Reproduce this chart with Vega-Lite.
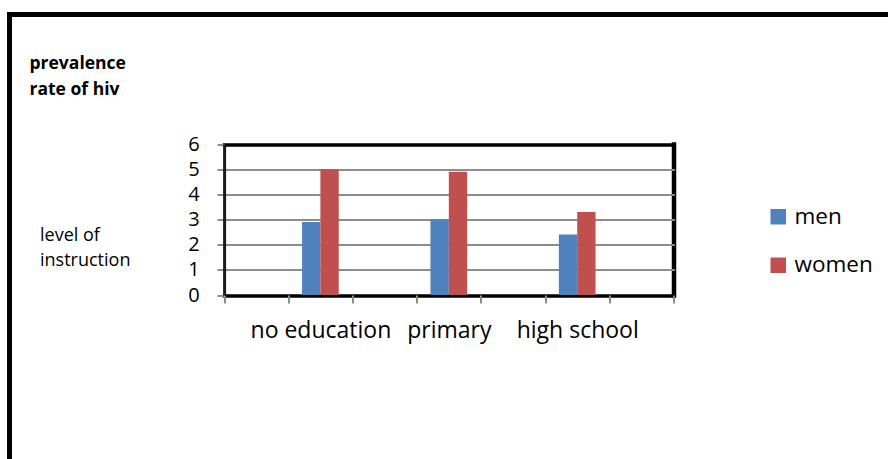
{
  "$schema": "https://vega.github.io/schema/vega-lite/v6.json",
  "width": 900,
  "height": 460,
  "autosize": "none",
  "padding": {"left": 9.5, "top": 14.5, "right": -21.5, "bottom": -15.5},
  "background": "white",
  "config": {
    "font": "Open Sans",
    "view": {"stroke": "black", "strokeWidth": 5, "fill": "white"}
  },
  "data": {
    "values": [
      {"level": "no education", "sex": "men", "rate": 2.9},
      {"level": "no education", "sex": "women", "rate": 5.0},
      {"level": "primary", "sex": "men", "rate": 3.0},
      {"level": "primary", "sex": "women", "rate": 4.9},
      {"level": "high school", "sex": "men", "rate": 2.4},
      {"level": "high school", "sex": "women", "rate": 3.3}
    ]
  },
  "mark": {"type": "bar"},
  "encoding": {
    "x": {
      "field": "level",
      "type": "nominal",
      "scale": {
        "domain": ["gap-a", "no education", "gap-b", "primary", "gap-c", "high school", "gap-d"],
        "range": [214.6, 664],
        "paddingInner": 0,
        "paddingOuter": 0
      },
      "axis": {
        "orient": "top",
        "offset": -280.5,
        "title": ["level of", "instruction"],
        "titleX": 30,
        "titleY": -55,
        "titleAngle": 0,
        "titleAlign": "left",
        "titleBaseline": "alphabetic",
        "titleFont": "Open Sans",
        "titleFontSize": 18,
        "titleFontWeight": "normal",
        "titleColor": "black",
        "titleLineHeight": 25,
        "tickBand": "extent",
        "domain": false,
        "ticks": true,
        "tickSize": -8,
        "tickColor": "#8c8c8c",
        "tickWidth": 2,
        "labelAngle": 0,
        "labelFont": "Open Sans",
        "labelFontSize": 23,
        "labelColor": "black",
        "labelPadding": -16.8,
        "labelBaseline": "top",
        "labelOverlap": false,
        "labelExpr": "indexof(['no education','primary','high school'], datum.value) >= 0 ? datum.value : ''",
        "grid": true,
        "gridColor": {"condition": {"test": "datum.index == 1", "value": "black"}, "value": "transparent"},
        "gridWidth": 4.5,
        "gridCap": "square"
      }
    },
    "xOffset": {
      "field": "sex",
      "type": "nominal",
      "scale": {"paddingInner": 0, "paddingOuter": 0.75}
    },
    "y": {
      "field": "rate",
      "type": "quantitative",
      "scale": {"domain": [0, 6], "nice": false, "range": [280.5, 129.5]},
      "axis": {
        "title": ["prevalence", "rate of hiv"],
        "titleX": -195.1,
        "titleY": 53.8,
        "titleAngle": 0,
        "titleAlign": "left",
        "titleBaseline": "alphabetic",
        "titleFont": "Open Sans",
        "titleFontWeight": "bold",
        "titleFontSize": 17.5,
        "titleLineHeight": 26,
        "titleColor": "black",
        "offset": -214.6,
        "values": [0, 1, 2, 3, 4, 5, 6],
        "domain": true,
        "domainColor": "#1a1a1a",
        "domainWidth": 3,
        "tickSize": 7,
        "tickColor": "#8c8c8c",
        "tickWidth": 2,
        "labelFont": "Open Sans",
        "labelFontSize": 20,
        "labelColor": "black",
        "labelPadding": 18,
        "grid": true,
        "gridColor": {"condition": {"test": "datum.value == 6 || datum.value == 0", "value": "black"}, "value": "#8c8c8c"},
        "gridWidth": {"condition": {"test": "datum.value == 6 || datum.value == 0", "value": 3.5}, "value": 2},
        "gridCap": "square"
      }
    },
    "color": {
      "field": "sex",
      "type": "nominal",
      "scale": {"domain": ["men", "women"], "range": ["#4F81BD", "#C0504D"]},
      "legend": {
        "title": null,
        "orient": "none",
        "legendX": 757.5,
        "legendY": 191,
        "padding": 0,
        "symbolType": "square",
        "symbolSize": 240,
        "symbolStrokeWidth": 0,
        "symbolOpacity": 1,
        "labelFont": "Open Sans",
        "labelFontSize": 22.5,
        "labelColor": "black",
        "labelOffset": 5,
        "rowPadding": 25.5
      }
    }
  }
}
